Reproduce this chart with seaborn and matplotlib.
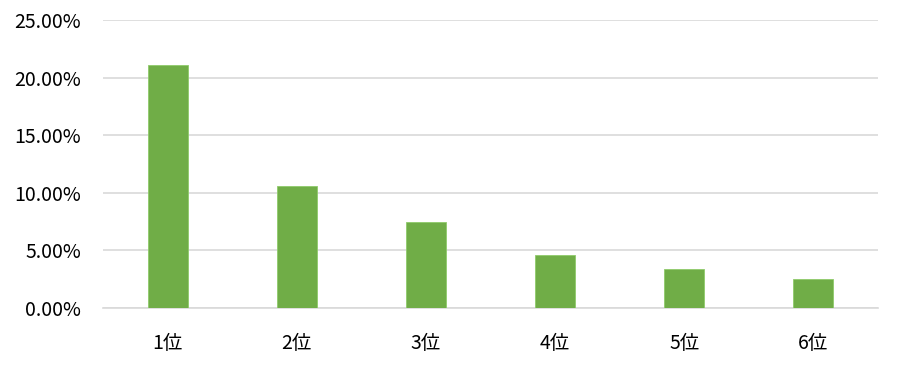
import matplotlib
matplotlib.use("Agg")
import matplotlib.pyplot as plt
import seaborn as sns
import pandas as pd
from matplotlib.ticker import FuncFormatter, MultipleLocator

categories = ["1位", "2位", "3位", "4位", "5位", "6位"]
values = [21.1, 10.58, 7.45, 4.58, 3.37, 2.5]

sns.set_theme(style="white")
plt.rcParams['font.family'] = ['Noto Sans CJK JP', 'DejaVu Sans']

df = pd.DataFrame({"cat": categories, "val": values})

fig = plt.figure(figsize=(9.05, 3.7), dpi=100)
ax = fig.add_axes([103/905, 1-307.7/370, (878-103)/905, (307.7-20)/370])
sns.barplot(data=df, x="cat", y="val", color="#70AD47", width=0.31, saturation=1,
            edgecolor="#8FCB6A", linewidth=0.6, ax=ax, zorder=3)
ax.set_ylim(0, 25)
ax.yaxis.set_major_locator(MultipleLocator(5))
ax.yaxis.set_major_formatter(FuncFormatter(lambda v, p: f"{v:.2f}%"))
ax.grid(axis="y", color="#D9D9D9", linewidth=1.2, zorder=0)
ax.set_axisbelow(True)
for s in ["top", "right", "left"]:
    ax.spines[s].set_visible(False)
ax.spines["bottom"].set_color("#D9D9D9")
ax.spines["bottom"].set_linewidth(1.2)
ax.set_xlabel("")
ax.set_ylabel("")
ax.tick_params(axis="both", length=0, labelsize=14, colors="#000000")
ax.tick_params(axis="x", pad=18)
ax.tick_params(axis="y", pad=16)
fig.savefig("out.png", dpi=100, facecolor="white")
